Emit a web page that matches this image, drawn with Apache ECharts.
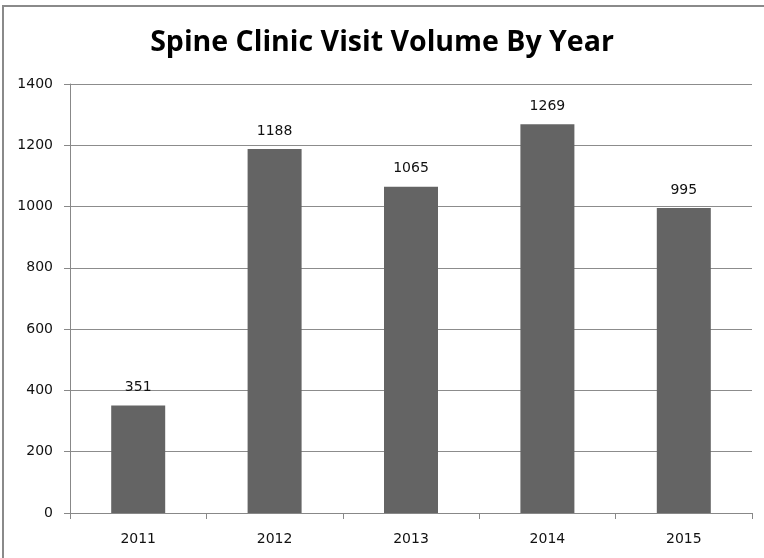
<!DOCTYPE html>
<html>
<head>
<meta charset="utf-8">
<script src="https://cdn.jsdelivr.net/npm/echarts@6/dist/echarts.min.js"></script>
<style>
  html, body { margin: 0; padding: 0; background: #fff; }
  #chart { width: 764px; height: 558px; }
</style>
</head>
<body>
<div id="chart"></div>
<script>
// Annual visit counts for the spine clinic
const years = ['2011', '2012', '2013', '2014', '2015'];
const visits = [351, 1188, 1065, 1269, 995];
const yTicks = [0, 200, 400, 600, 800, 1000, 1200, 1400];

const chart = echarts.init(document.getElementById('chart'), null, { renderer: 'canvas' });

const labelFont = 'DejaVu Sans';

chart.setOption({
  animation: false,
  backgroundColor: '#ffffff',
  title: {
    text: 'Spine Clinic Visit Volume By Year',
    left: 'center',
    top: 23,
    textStyle: {
      fontFamily: 'Open Sans',
      fontWeight: 'bold',
      fontSize: 28.5,
      color: '#000000'
    }
  },
  graphic: [{
    type: 'rect',
    shape: { x: 3, y: 6, width: 800, height: 600 },
    style: { fill: 'none', stroke: '#8a8a8a', lineWidth: 2 },
    silent: true,
    z: 0
  }],
  grid: {
    left: 70,
    right: 12,
    top: 84,
    bottom: 45
  },
  xAxis: {
    type: 'category',
    data: years,
    axisLine: { show: true, lineStyle: { color: '#888888', width: 1 } },
    axisTick: { show: true, length: 6, lineStyle: { color: '#888888' } },
    axisLabel: {
      fontFamily: labelFont,
      fontSize: 14,
      color: '#111111',
      margin: 19
    },
    splitLine: { show: false }
  },
  yAxis: {
    type: 'value',
    min: yTicks[0],
    max: yTicks[yTicks.length - 1],
    interval: 200,
    axisLine: { show: true, lineStyle: { color: '#888888', width: 1 } },
    axisTick: { show: true, length: 6, lineStyle: { color: '#888888' } },
    axisLabel: {
      fontFamily: labelFont,
      fontSize: 14,
      color: '#111111',
      margin: 17,
      formatter: (v) => String(v)
    },
    splitLine: { show: true, lineStyle: { color: '#8c8c8c', width: 1 } }
  },
  series: [{
    type: 'bar',
    data: visits,
    barWidth: 54,
    itemStyle: { color: '#646464' },
    label: {
      show: true,
      position: 'top',
      distance: 11,
      fontFamily: labelFont,
      fontSize: 14,
      color: '#111111'
    }
  }]
});
</script>
</body>
</html>
